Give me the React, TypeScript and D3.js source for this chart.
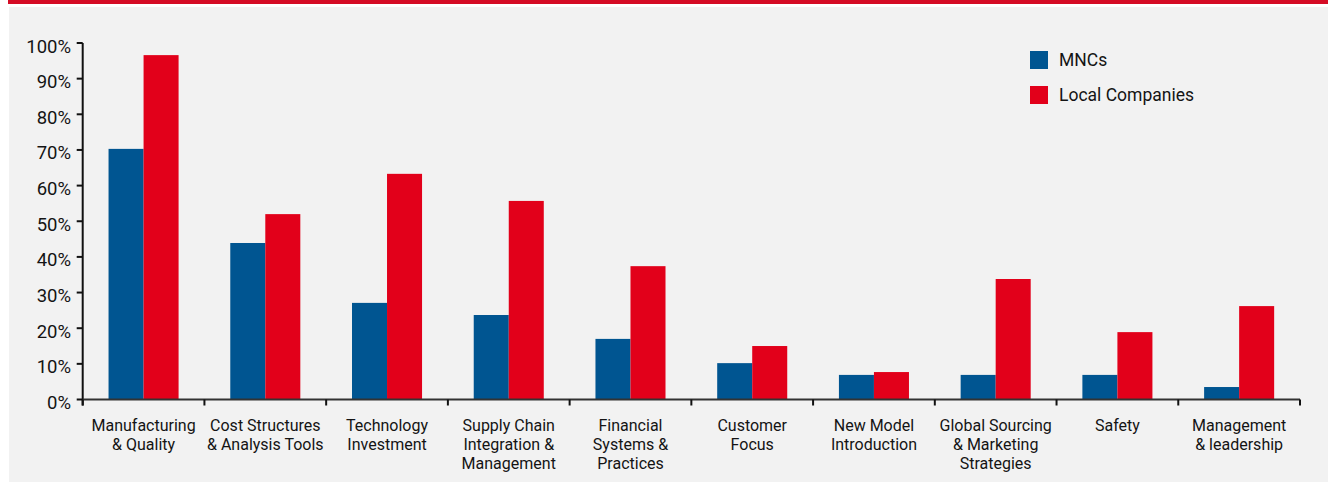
import React from "react";
import * as d3 from "d3";

const categories: string[][] = [
  ["Manufacturing", "& Quality"],
  ["Cost Structures", "& Analysis Tools"],
  ["Technology", "Investment"],
  ["Supply Chain", "Integration &", "Management"],
  ["Financial", "Systems &", "Practices"],
  ["Customer", "Focus"],
  ["New Model", "Introduction"],
  ["Global Sourcing", "& Marketing", "Strategies"],
  ["Safety"],
  ["Management", "& leadership"],
];

const seriesNames = ["MNCs", "Local Companies"];
const seriesColors = ["#005591", "#e2001a"];

const mncValues = [70.3, 43.9, 27.1, 23.7, 17.0, 10.2, 6.9, 6.9, 6.9, 3.5];
const localValues = [96.6, 52.0, 63.3, 55.7, 37.4, 15.0, 7.7, 33.8, 18.9, 26.2];

const yTicks = [0, 10, 20, 30, 40, 50, 60, 70, 80, 90, 100];

const W = 1332;
const H = 483;
const FONT = "Roboto, 'Open Sans', sans-serif";

export default function App() {
  const left = 82.7;
  const right = 1300;
  const top = 43;
  const bottom = 399.5;

  const keys = categories.map((c) => c.join(" "));
  const x0 = d3.scaleBand<string>().domain(keys).range([left, right]).paddingInner(0).paddingOuter(0);
  const x1 = d3
    .scaleBand<string>()
    .domain(seriesNames)
    .range([0, x0.bandwidth()])
    .paddingInner(0)
    .paddingOuter(0.738);
  const y = d3.scaleLinear().domain([0, 100]).range([bottom, top]);

  const series = [mncValues, localValues];
  const boundaries = keys.map((k) => x0(k) as number).concat([right]);

  return (
    <svg
      width={W}
      height={H}
      style={{ position: "absolute", left: 0, top: 0, fontFamily: FONT }}
    >
      <rect x={8} y={0} width={1320} height={4} fill="#d50c25" />
      <rect x={9} y={7} width={1319} height={475} fill="#f2f2f2" />

      {/* bars */}
      {keys.map((k, i) => (
        <g key={k} transform={`translate(${x0(k)},0)`}>
          {seriesNames.map((s, j) => {
            const v = series[j][i];
            return (
              <rect
                key={s}
                x={x1(s)}
                y={y(v)}
                width={x1.bandwidth()}
                height={bottom - y(v)}
                fill={seriesColors[j]}
              />
            );
          })}
        </g>
      ))}

      {/* y axis */}
      <line x1={left} x2={left} y1={top} y2={bottom + 6} stroke="#111" strokeWidth={2} />
      {yTicks.map((t) => (
        <g key={t}>
          <line x1={left - 6} x2={left} y1={y(t)} y2={y(t)} stroke="#111" strokeWidth={2} />
          <text
            x={71}
            y={y(t) + 9.5}
            textAnchor="end"
            fontSize={18.5}
            fill="#141414"
          >
            {t}%
          </text>
        </g>
      ))}

      {/* x axis */}
      <line x1={left} x2={right} y1={bottom} y2={bottom} stroke="#333" strokeWidth={2} />
      {boundaries.map((bx, i) => (
        <line key={i} x1={bx} x2={bx} y1={bottom} y2={bottom + 6} stroke="#111" strokeWidth={2} />
      ))}
      {categories.map((lines, i) => {
        const cx = (x0(keys[i]) as number) + x0.bandwidth() / 2;
        return (
          <text key={keys[i]} textAnchor="middle" fontSize={16} fill="#141414">
            {lines.map((ln, li) => (
              <tspan key={li} x={cx} y={430.5 + li * 19}>
                {ln}
              </tspan>
            ))}
          </text>
        );
      })}

      {/* legend */}
      {seriesNames.map((s, j) => (
        <g key={s} transform={`translate(1030,${51 + j * 35})`}>
          <rect x={0} y={0} width={18} height={18} fill={seriesColors[j]} />
          <text x={29} y={15} fontSize={17.5} fill="#141414">
            {s}
          </text>
        </g>
      ))}
    </svg>
  );
}
